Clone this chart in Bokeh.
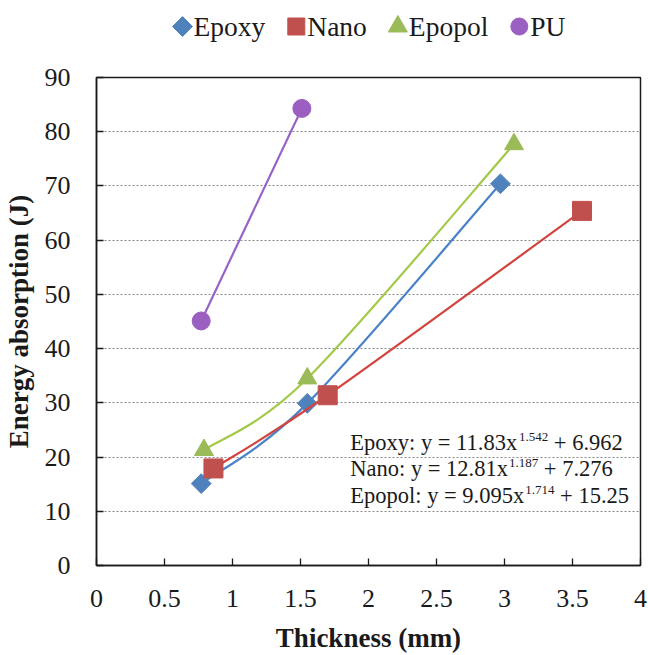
import numpy as np
from bokeh.plotting import figure
from bokeh.layouts import column
from bokeh.core.properties import value
from bokeh.models import (Range1d, Label, FixedTicker, NumeralTickFormatter,
                          ColumnDataSource)
from bokeh.embed import file_html
from bokeh.resources import INLINE

# Panel thickness (mm) and absorbed energy (J) for each laminate
epoxy_thickness = [0.77, 1.55, 2.97]
epoxy_energy = [15.1, 29.9, 70.4]
nano_thickness = [0.86, 1.70, 3.57]
nano_energy = [17.9, 31.4, 65.4]
epopol_thickness = [0.79, 1.55, 3.07]
epopol_energy = [21.3, 34.5, 77.7]
pu_thickness = [0.77, 1.51]
pu_energy = [45.1, 84.3]

series_names = ["Epoxy", "Nano", "Epopol", "PU"]

x_ticks = [0, 0.5, 1, 1.5, 2, 2.5, 3, 3.5, 4]
y_ticks = [0, 10, 20, 30, 40, 50, 60, 70, 80, 90]

# Power-law fits y = a*x^b + c, split into base text, exponent, tail
fit_text = [
    ("Epoxy: y = 11.83x", "1.542", "+ 6.962"),
    ("Nano: y = 12.81x", "1.187", "+ 7.276"),
    ("Epopol: y = 9.095x", "1.714", "+ 15.25"),
]

SERIF = "Liberation Serif"
INK = "#1a1a1a"

styles = {
    "Epoxy": dict(line="#4a82c8", fill="#4f81bd", marker="square", angle=np.pi / 4,
                  size=14, key_size=14),
    "Nano": dict(line="#d2453f", fill="#c0504d", marker="square", angle=0.0,
                 size=19, key_size=17),
    "Epopol": dict(line="#a3c94a", fill="#9bbb59", marker="triangle", angle=0.0,
                   size=19, key_size=19),
    "PU": dict(line="#9863c8", fill="#9a5fc0", marker="circle", angle=0.0,
               size=18, key_size=17),
}

data = {
    "Epoxy": (epoxy_thickness, epoxy_energy),
    "Nano": (nano_thickness, nano_energy),
    "Epopol": (epopol_thickness, epopol_energy),
    "PU": (pu_thickness, pu_energy),
}


def smooth_segments(xs, ys):
    """Cubic Bezier pieces (Catmull-Rom style) through the measured points."""
    x = np.asarray(xs, float)
    y = np.asarray(ys, float)
    n = len(x)
    seg = {k: [] for k in ("x0", "y0", "x1", "y1", "cx0", "cy0", "cx1", "cy1")}
    for i in range(n - 1):
        a = max(i - 1, 0)
        d = min(i + 2, n - 1)
        seg["x0"].append(x[i]); seg["y0"].append(y[i])
        seg["x1"].append(x[i + 1]); seg["y1"].append(y[i + 1])
        seg["cx0"].append(x[i] + (x[i + 1] - x[a]) / 6.0)
        seg["cy0"].append(y[i] + (y[i + 1] - y[a]) / 6.0)
        seg["cx1"].append(x[i + 1] - (x[d] - x[i]) / 6.0)
        seg["cy1"].append(y[i + 1] - (y[d] - y[i]) / 6.0)
    return seg


# Times-compatible advance widths (per 1000 em) for laying out text runs
ADV = {" ": 250, ".": 250, ":": 278, "=": 564, "+": 564, "E": 611, "N": 722,
       "P": 556, "U": 722, "a": 444, "l": 278, "n": 500, "o": 500, "p": 500,
       "x": 500, "y": 500}


def text_width(s, px):
    return sum(ADV.get(ch, 500) for ch in s) * px / 1000.0


# ---- main chart -----------------------------------------------------------
FRAME_LEFT, FRAME_RIGHT = 96, 640

p = figure(width=648, height=610, output_backend="svg", toolbar_location=None,
           x_range=Range1d(0, 4), y_range=Range1d(0, 90),
           min_border_left=FRAME_LEFT, min_border_right=648 - FRAME_RIGHT,
           min_border_top=32, min_border_bottom=88,
           background_fill_color="white", border_fill_color="white")

p.outline_line_color = INK
p.outline_line_width = 1.5
p.xgrid.visible = False
p.ygrid.grid_line_color = "#8a8a8a"
p.ygrid.grid_line_dash = "2 2"
p.ygrid.grid_line_width = 1.2

p.xaxis.ticker = FixedTicker(ticks=x_ticks)
p.yaxis.ticker = FixedTicker(ticks=y_ticks)
p.xaxis.formatter = NumeralTickFormatter(format="0.[0]")
p.xaxis.axis_label = "Thickness (mm)"
p.yaxis.axis_label = "Energy absorption (J)"

for ax in (p.xaxis, p.yaxis):
    ax.axis_line_color = INK
    ax.axis_line_width = 1.5
    ax.major_tick_line_color = INK
    ax.major_tick_line_width = 1.3
    ax.major_tick_in = 7
    ax.major_tick_out = 0
    ax.minor_tick_line_color = None
    ax.major_label_text_font = SERIF
    ax.major_label_text_font_size = "26px"
    ax.major_label_text_color = INK
    ax.axis_label_text_font = SERIF
    ax.axis_label_text_font_size = "27px"
    ax.axis_label_text_font_style = "bold"
    ax.axis_label_text_color = INK

p.xaxis.major_label_standoff = 24
p.xaxis.axis_label_standoff = 13
p.yaxis.major_label_standoff = 26
p.yaxis.axis_label_standoff = 8

for name in series_names:
    xs, ys = data[name]
    st = styles[name]
    seg = smooth_segments(xs, ys)
    p.bezier(**seg, line_color=st["line"], line_width=2.2)
    p.scatter(xs, ys, marker=st["marker"], angle=st["angle"], size=st["size"],
              fill_color=st["fill"], line_color=st["fill"], line_width=1)

# Fit equations, with the exponent raised as a superscript
eq_x = 1.866
eq_baselines = [22.6, 17.8, 12.9]
main_px = 22.5
sup_px = 13
for (base, expo, tail), yb in zip(fit_text, eq_baselines):
    w_base = text_width(base, main_px) + 1
    w_sup = text_width(expo, sup_px) + text_width(" ", main_px)
    common = dict(x=eq_x, y=yb, text_font=SERIF, text_color=INK,
                  text_baseline="alphabetic", text_align="left")
    p.add_layout(Label(text=base, text_font_size=f"{main_px}px", **common))
    p.add_layout(Label(text=expo, text_font_size=f"{sup_px}px",
                       x_offset=w_base, y_offset=6, **common))
    p.add_layout(Label(text=tail, text_font_size=f"{main_px}px",
                       x_offset=w_base + w_sup, **common))

# ---- key strip above the chart (page pixels, y measured downward) ---------
# The column layout lines this strip's frame up with the chart frame, so its
# x range spans the same page pixels as the chart frame does.
KEY_H = 45
key = figure(width=648, height=KEY_H, output_backend="svg", toolbar_location=None,
             x_range=Range1d(FRAME_LEFT, FRAME_RIGHT), y_range=Range1d(KEY_H, 0),
             x_axis_location=None, y_axis_location=None, min_border=0,
             background_fill_color="white", border_fill_color="white")
key.outline_line_color = None
key.grid.visible = False

key_font_px = 27.5
first_center, mark_to_text, item_gap = 182, 11, 31
centers, text_starts = [], []
c = first_center
for name in series_names:
    centers.append(c)
    text_starts.append(c + mark_to_text)
    c = c + mark_to_text + text_width(name, key_font_px) + item_gap

key_src = ColumnDataSource(dict(
    x=centers,
    y=[26] * len(series_names),
    tx=text_starts,
    ty=[26] * len(series_names),
    label=series_names,
    marker=[styles[n]["marker"] for n in series_names],
    angle=[styles[n]["angle"] for n in series_names],
    size=[styles[n]["key_size"] for n in series_names],
    color=[styles[n]["fill"] for n in series_names],
))
key.scatter(x="x", y="y", marker="marker", angle="angle", size="size",
            fill_color="color", line_color="color", source=key_src)
key.text(x="tx", y="ty", text="label", source=key_src,
         text_font=value(SERIF), text_font_size=value(f"{key_font_px}px"),
         text_color=INK, text_baseline=value("alphabetic"),
         text_align=value("left"))

layout = column(key, p, spacing=0)
open("out.html", "w").write(file_html(layout, INLINE))
